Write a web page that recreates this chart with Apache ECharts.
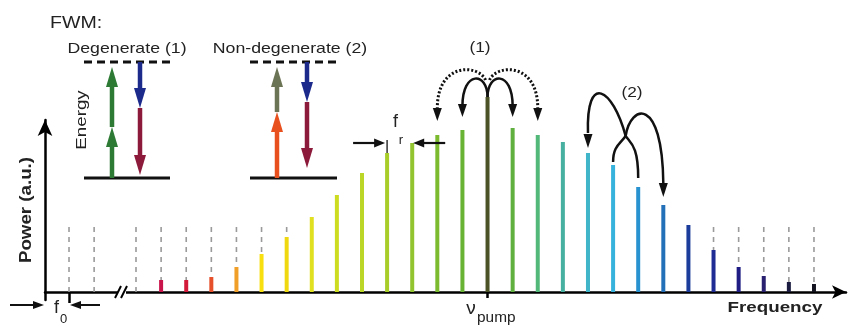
<!DOCTYPE html>
<html><head><meta charset="utf-8">
<script src="https://cdn.jsdelivr.net/npm/echarts@6/dist/echarts.min.js"></script>
<style>html,body{margin:0;padding:0;background:#fff}#c{width:855px;height:332px}</style>
</head><body><div id="c"></div>
<script>
// ---- data ----
const lowModes = [0, 1];                 // f0 and f0 + fr (before the axis break)
const combN = [-14,-13,-12,-11,-10,-9,-8,-7,-6,-5,-4,-3,-2,-1,0,1,2,3,4,5,6,7,8,9,10,11,12,13]; // mode index relative to pump
const power = [0,12,12,15,25,38,55,75,97,119,139,149,157,162,195,164,157,150,139,127,105,87,67,42,25,16,10,8];
const colors = [null,'#c8144a','#d41a3a','#e6502a','#f0a028','#f8e010','#f0d810','#e0e020','#cddc20','#bcd628','#a8cc28','#92c430','#7cba30','#68b234','#4a5226','#60b040','#52b87a','#48b0a0','#40b4c8','#36b2dc','#2892d0','#2470b8','#1c3c9c','#1e2c94','#201e84','#2a2270','#1c1c40','#141420'];
const noiseFloor = 67;
const FONT = 'Liberation Sans, Arial, Helvetica, sans-serif';

const chart = echarts.init(document.getElementById('c'), null, {renderer: 'canvas'});

function combItem(colorFn, lw, dash) {
  return function (params, api) {
    const x = api.value(0), v = api.value(1);
    if (!v) return null;
    const p0 = api.coord([x, 0]), p1 = api.coord([x, v]);
    return {type: 'line', shape: {x1: p0[0], y1: p0[1], x2: p1[0], y2: p1[1]},
      style: {stroke: colorFn(params.dataIndex), lineWidth: lw, lineDash: dash || null}};
  };
}
const axisStyle = {color: '#000', width: 2.5};

chart.setOption({
  animation: false,
  backgroundColor: '#fff',
  grid: [
    {left: 45, top: 120, width: 77, height: 180, outerBoundsMode: 'none'},
    {left: 122, top: 120, width: 724, height: 180, outerBoundsMode: 'none'}
  ],
  xAxis: [
    {gridIndex: 0, type: 'value', min: -0.956, max: 2.11,
      axisLine: {onZero: true, lineStyle: axisStyle},
      axisTick: {show: true, customValues: [0], length: 11, lineStyle: axisStyle},
      axisLabel: {show: false}, splitLine: {show: false}},
    {gridIndex: 1, type: 'value', min: -14.5575, max: 14.2755,
      axisLine: {onZero: true, symbol: ['none', 'arrow'], symbolSize: [10, 14], lineStyle: axisStyle},
      axisTick: {show: true, customValues: [0], length: 6, lineStyle: axisStyle},
      axisLabel: {show: false}, splitLine: {show: false}}
  ],
  yAxis: [
    {gridIndex: 0, type: 'value', min: -8, max: 172,
      axisLine: {show: true, onZero: false, symbol: ['none', 'arrow'], symbolSize: [11, 16], lineStyle: axisStyle},
      axisTick: {show: false}, axisLabel: {show: false}, splitLine: {show: false}},
    {gridIndex: 1, type: 'value', min: -8, max: 172,
      axisLine: {show: false, onZero: false}, axisTick: {show: false}, axisLabel: {show: false}, splitLine: {show: false}}
  ],
  series: [
    {type: 'custom', xAxisIndex: 0, yAxisIndex: 0, z: 1,
      data: lowModes.map(m => [m, noiseFloor]), renderItem: combItem(() => '#9a9a9a', 1.6, [5, 5])},
    {type: 'custom', xAxisIndex: 1, yAxisIndex: 1, z: 1,
      data: combN.map(n => [n, noiseFloor]), renderItem: combItem(() => '#9a9a9a', 1.6, [5, 5])},
    {type: 'custom', xAxisIndex: 1, yAxisIndex: 1, z: 2, clip: false,
      data: combN.map((n, i) => [n, power[i]]), renderItem: combItem(i => colors[i], 4)}
  ]
});

// ---- annotations ----
const g = [];
function P(n, v, grid) { return chart.convertToPixel({xAxisIndex: grid, yAxisIndex: grid}, [n, v]); }
function pw(n) { return power[combN.indexOf(n)]; }
function line(x1, y1, x2, y2, stroke, lw, dash) {
  g.push({type: 'line', z: 10, shape: {x1, y1, x2, y2}, style: {stroke, lineWidth: lw, lineDash: dash || null}});
}
function head(tx, ty, dx, dy, len, w, color) {
  const L = Math.hypot(dx, dy), ux = dx / L, uy = dy / L;
  const bx = tx - ux * len, by = ty - uy * len;
  g.push({type: 'polygon', z: 11, shape: {points: [[tx, ty], [bx - uy * w / 2, by + ux * w / 2], [bx + uy * w / 2, by - ux * w / 2]]},
    style: {fill: color}});
  return [bx, by];
}
function arrow(x1, y1, x2, y2, color, lw, len, w) {
  const b = head(x2, y2, x2 - x1, y2 - y1, len, w, color);
  const L = Math.hypot(x2 - x1, y2 - y1);
  line(x1, y1, b[0] + (x2 - x1) / L, b[1] + (y2 - y1) / L, color, lw);
}
function bez(x1, y1, c1x, c1y, c2x, c2y, x2, y2, lw, dash) {
  g.push({type: 'bezierCurve', z: 10, shape: {x1, y1, x2, y2, cpx1: c1x, cpy1: c1y, cpx2: c2x, cpy2: c2y},
    style: {stroke: '#111', lineWidth: lw, fill: 'none', lineDash: dash || null}});
}
function text(t, x, y, o) {
  o = o || {};
  g.push({type: 'text', z: 12, x, y, scaleX: o.sx || 1, rotation: o.rot || 0,
    style: {text: t, fontSize: o.size || 15, fontFamily: FONT, fontWeight: o.bold ? 'bold' : 'normal',
      fill: '#222', align: o.align || 'center', verticalAlign: 'middle'}});
}

// axis break
const yAx = P(0, 0, 1)[1];
const xb = P(-14.5575, 0, 1)[0];
g.push({type: 'rect', z: 9, shape: {x: xb - 4, y: yAx - 3, width: 8, height: 6}, style: {fill: '#fff'}});
line(xb - 7, yAx + 6, xb - 1, yAx - 6, '#000', 2);
line(xb - 1, yAx + 6, xb + 5, yAx - 6, '#000', 2);

// f0 arrows
const f0x = P(0, 0, 0)[0];
const y0x = chart.convertToPixel({xAxisIndex: 0}, -0.956);
arrow(10, 305, y0x - 1, 305, '#111', 2, 11, 8);
arrow(f0x + 31, 305, f0x + 1, 305, '#111', 2, 11, 8);
text('f', 56.5, 308, {size: 18});
text('0', 63.5, 319, {size: 13});

// fr arrows
const a = P(-4, pw(-4), 1), b = P(-3, pw(-3), 1);
line(a[0], a[1], a[0], b[1] - 3, '#333', 1.5);
arrow(a[0] - 34, b[1], a[0] - 2, b[1], '#111', 2.2, 11, 9);
arrow(b[0] + 33, b[1], b[0] + 1, b[1], '#111', 2.2, 11, 9);
text('f', 395.5, 122, {size: 18});
text('r', 401, 140, {size: 13});

// pump label
text('\u03bd', 471, 309, {size: 19});
text('pump', 477, 318, {size: 14, align: 'left', sx: 1.1});
text('Frequency', 775, 308, {size: 15, bold: true, sx: 1.25});
text('Power (a.u.)', 27, 210, {size: 16, bold: true, sx: 1.17, rot: Math.PI / 2});

// (1) degenerate arcs around pump
const pp = P(0, pw(0), 1);
const xm1 = P(-1, 0, 1)[0], xp1 = P(1, 0, 1)[0], xm2 = P(-2, 0, 1)[0], xp2 = P(2, 0, 1)[0];
const px0 = pp[0], py0 = pp[1];
bez(px0, py0, px0, py0 - 25, xm1, py0 - 27, xm1, py0 + 9, 2.5);
head(xm1, py0 + 20, 0, 1, 13, 9, '#111');
bez(px0, py0, px0, py0 - 25, xp1, py0 - 27, xp1, py0 + 9, 2.5);
head(xp1, py0 + 20, 0, 1, 13, 9, '#111');
bez(px0 - 2, py0 - 17, px0 - 9, py0 - 33, xm2, py0 - 35, xm2, py0 + 11, 3, [2, 2]);
head(xm2, py0 + 24, 0, 1, 13, 9, '#111');
bez(px0 + 2, py0 - 17, px0 + 9, py0 - 33, xp2, py0 - 35, xp2, py0 + 11, 3, [2, 2]);
head(xp2, py0 + 24, 0, 1, 13, 9, '#111');
text('(1)', 480, 48, {size: 15, sx: 1.15});

// (2) non-degenerate arcs
const A = P(5, pw(5), 1), B = P(6, pw(6), 1), L4 = P(4, pw(4), 1), R7 = P(7, pw(7), 1);
const J = [(A[0] + B[0]) / 2, A[1] - 29];
bez(A[0], A[1] - 3, A[0], A[1] - 19, A[0] + 7, A[1] - 21, J[0], J[1], 2.5);
bez(B[0], B[1] - 9, B[0], B[1] - 42, B[0] - 8, B[1] - 44, J[0], J[1], 2.5);
bez(J[0], J[1], J[0] - 13, J[1] - 48, L4[0] - 2, J[1] - 64, L4[0], L4[1] - 20, 2.5);
head(L4[0], L4[1] - 5, 0, 1, 14, 9, '#111');
bez(J[0], J[1], J[0] + 5, J[1] - 32, R7[0] - 1, J[1] - 40, R7[0], R7[1] - 22, 2.5);
head(R7[0], R7[1] - 8, 0, 1, 14, 9, '#111');
text('(2)', 632, 93, {size: 15, sx: 1.15});

// ---- FWM inset (energy diagrams) ----
text('FWM:', 50, 23, {size: 17, sx: 1.15, align: 'left'});
text('Degenerate (1)', 127, 49, {size: 15, sx: 1.18});
text('Non-degenerate (2)', 290, 49, {size: 15, sx: 1.18});
text('Energy', 82, 120, {size: 15, sx: 1.25, rot: Math.PI / 2});
line(84, 62, 170, 62, '#111', 3, [8, 5]);
line(84, 178, 170, 178, '#111', 3);
line(250, 62, 337, 62, '#111', 3, [8, 5]);
line(250, 178, 337, 178, '#111', 3);
// degenerate
arrow(112, 178, 112, 127, '#2d7a35', 4.5, 20, 12);
arrow(112, 127, 112, 67, '#2d7a35', 4.5, 20, 12);
arrow(140, 62, 140, 108, '#1c2a8c', 4.5, 20, 12);
arrow(140, 108, 140, 175, '#8c1a3a', 4.5, 20, 12);
// non-degenerate
arrow(277, 178, 277, 112, '#e8501e', 4.5, 20, 12);
arrow(277, 112, 277, 67, '#6c7456', 4.5, 20, 12);
arrow(307, 62, 307, 102, '#1c2a8c', 4.5, 20, 12);
arrow(307, 102, 307, 168, '#8c1a3a', 4.5, 20, 12);

chart.setOption({graphic: {elements: g}});
</script></body></html>
